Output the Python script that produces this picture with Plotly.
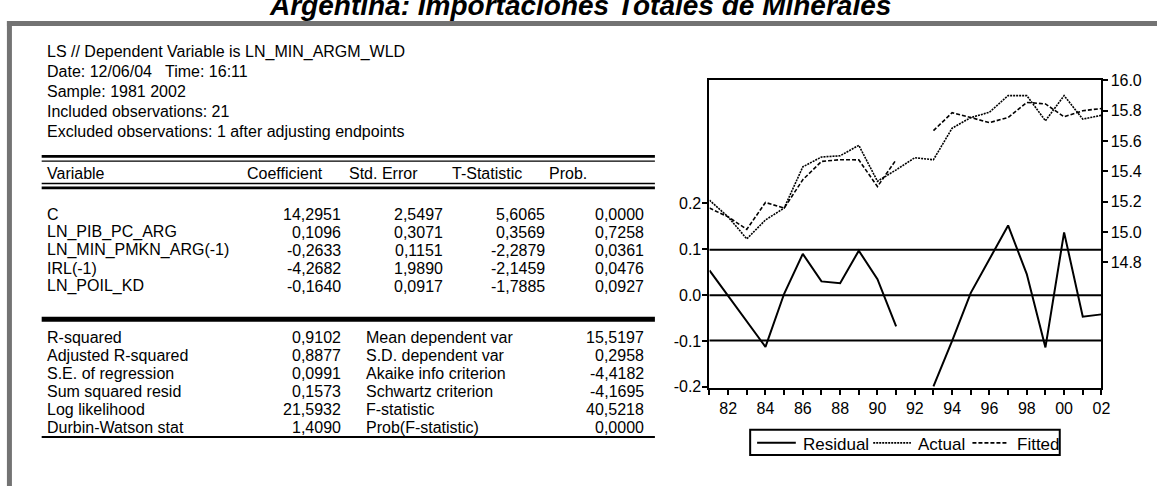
import plotly.graph_objects as go

W, H = 1166, 493
FONT = "Liberation Sans, Arial, Helvetica, sans-serif"

# ---------------- regression output (EViews style) ----------------
title_text = "Argentina: Importaciones Totales de Minerales"
header_lines = [
    "LS // Dependent Variable is LN_MIN_ARGM_WLD",
    "Date: 12/06/04\u00a0\u00a0 Time: 16:11",
    "Sample: 1981 2002",
    "Included observations: 21",
    "Excluded observations: 1 after adjusting endpoints",
]
col_headers = ["Variable", "Coefficient", "Std. Error", "T-Statistic", "Prob."]
variables = ["C", "LN_PIB_PC_ARG", "LN_MIN_PMKN_ARG(-1)", "IRL(-1)", "LN_POIL_KD"]
coefficients = ["14,2951", "0,1096", "-0,2633", "-4,2682", "-0,1640"]
std_errors = ["2,5497", "0,3071", "0,1151", "1,9890", "0,0917"]
t_stats = ["5,6065", "0,3569", "-2,2879", "-2,1459", "-1,7885"]
probs = ["0,0000", "0,7258", "0,0361", "0,0476", "0,0927"]
stat_names_left = ["R-squared", "Adjusted R-squared", "S.E. of regression",
                   "Sum squared resid", "Log likelihood", "Durbin-Watson stat"]
stat_values_left = ["0,9102", "0,8877", "0,0991", "0,1573", "21,5932", "1,4090"]
stat_names_right = ["Mean dependent var", "S.D. dependent var", "Akaike info criterion",
                    "Schwartz criterion", "F-statistic", "Prob(F-statistic)"]
stat_values_right = ["15,5197", "0,2958", "-4,4182", "-4,1695", "40,5218", "0,0000"]

# ---------------- residual / actual / fitted series ----------------
years = list(range(1981, 2003))
year_labels = ["", "82", "", "84", "", "86", "", "88", "", "90", "",
               "92", "", "94", "", "96", "", "98", "", "00", "", "02"]
residual = [0.054, -0.002, -0.058, -0.113, 0.003, 0.090, 0.030, 0.026, 0.097, 0.035, -0.068,
            None, -0.199, -0.100, 0.005, 0.078, 0.152, 0.046, -0.114, 0.137, -0.047, -0.042]
actual = [15.210, 15.100, 14.955, 15.080, 15.158, 15.430, 15.495, 15.503, 15.572, 15.335, 15.410,
          15.490, 15.477, 15.685, 15.755, 15.790, 15.900, 15.900, 15.734, 15.900, 15.745, 15.770]
fitted = [15.158, 15.100, 15.018, 15.195, 15.158, 15.345, 15.466, 15.477, 15.476, 15.300, 15.477,
          None, 15.669, 15.787, 15.755, 15.722, 15.755, 15.855, 15.845, 15.760, 15.800, 15.815]
resid_ticks = [-0.2, -0.1, 0.0, 0.1, 0.2]
resid_tick_labels = ["-0.2", "-0.1", "0.0", "0.1", "0.2"]
level_ticks = [14.8, 15.0, 15.2, 15.4, 15.6, 15.8, 16.0]
level_tick_labels = ["14.8", "15.0", "15.2", "15.4", "15.6", "15.8", "16.0"]

series_names = ["Residual", "Actual", "Fitted"]
series_widths = [2.0, 1.6, 1.6]
series_dash = ["solid", "2px,1px", "4px,2px"]

# standard error band drawn around the zero residual line
se_reg = float(stat_values_left[2].replace(",", "."))
resid_bands = [se_reg, 0.0, -se_reg]


def px(x):
    return x / W


def py(y):
    return 1 - y / H


annotations = []
shapes = []


def text(x, y, s, anchor="left", size=16):
    annotations.append(dict(
        x=px(x), y=py(y), xref="paper", yref="paper", text=s, showarrow=False,
        xanchor=anchor, yanchor="middle", borderpad=0,
        font=dict(family=FONT, size=size, color="black"),
    ))


def hline(x0, x1, y, width=1.5, color="black", dash="solid"):
    shapes.append(dict(type="line", xref="paper", yref="paper",
                       x0=px(x0), x1=px(x1), y0=py(y), y1=py(y),
                       line=dict(color=color, width=width, dash=dash)))


def vline(x, y0, y1, width=1.5, color="black"):
    shapes.append(dict(type="line", xref="paper", yref="paper",
                       x0=px(x), x1=px(x), y0=py(y0), y1=py(y1),
                       line=dict(color=color, width=width)))


# page frame
hline(7, W, 16, width=5, color="#737373")
vline(9.5, 13.5, H, width=5, color="#737373")

# title (partly above the page edge)
annotations.append(dict(
    x=px(585), y=py(-3), xref="paper", yref="paper", text="<b><i>" + title_text + "</i></b>",
    showarrow=False, xanchor="center", yanchor="middle", borderpad=0,
    font=dict(family=FONT, size=28, color="black"),
))

# header block
header_y = [45, 65.5, 86, 106.5, 127]
for s, y in zip(header_lines, header_y):
    text(46, y, s)

# coefficient table
TL, TR = 42, 660
hline(TL, TR, 153, width=2.6)
hline(TL, TR, 158, width=1.3)
hline(TL, TR, 181, width=1.3)
hline(TL, TR, 185.5, width=2.6)

header_x = [46, 248, 351, 455, 552]
for s, x in zip(col_headers, header_x):
    text(x, 171, s)

row_y = [212.6, 231.2, 249.8, 268.4, 287.0]
col_right = [345, 447, 550, 650]
for i, y in enumerate(row_y):
    text(46, y, variables[i])
    for col, x in zip([coefficients, std_errors, t_stats, probs], col_right):
        text(x, y, col[i], anchor="right")

hline(TL, TR, 321, width=5)

stat_y = [340.0, 358.6, 377.2, 395.8, 414.4, 433.0]
for i, y in enumerate(stat_y):
    text(46, y, stat_names_left[i])
    text(345, y, stat_values_left[i], anchor="right")
    text(368, y, stat_names_right[i])
    text(650, y, stat_values_right[i], anchor="right")

hline(TL, TR, 442.5, width=2)

# residual reference lines across the plot area
for b in resid_bands:
    shapes.append(dict(type="line", xref="x domain", yref="y", x0=0, x1=1, y0=b, y1=b,
                       line=dict(color="black", width=2), layer="below"))

# legend box below the chart
shapes.append(dict(type="rect", xref="paper", yref="paper",
                   x0=px(756), x1=px(1068), y0=py(461), y1=py(435),
                   line=dict(color="black", width=2), fillcolor="rgba(0,0,0,0)"))
legend_sample_x = [(763, 802), (880, 918), (980, 1016)]
legend_text_x = [808, 924, 1024]
for name, (sx0, sx1), tx, w, d in zip(series_names, legend_sample_x, legend_text_x,
                                      series_widths, series_dash):
    hline(sx0, sx1, 448.5, width=w, dash=d)
    text(tx, 450.5, name, size=17)

# ---------------- chart ----------------
fig = go.Figure()
fig.add_trace(go.Scatter(x=years, y=residual, name=series_names[0], mode="lines",
                         line=dict(color="black", width=series_widths[0], dash=series_dash[0]),
                         yaxis="y", connectgaps=False))
fig.add_trace(go.Scatter(x=years, y=actual, name=series_names[1], mode="lines",
                         line=dict(color="black", width=series_widths[1], dash=series_dash[1]),
                         yaxis="y2"))
fig.add_trace(go.Scatter(x=years, y=fitted, name=series_names[2], mode="lines",
                         line=dict(color="black", width=series_widths[2], dash=series_dash[2]),
                         yaxis="y2", connectgaps=False))

PX0, PX1, PY0, PY1 = 715, 1110, 74, 392
tickfont = dict(family=FONT, size=16, color="black")
axis_common = dict(showgrid=False, zeroline=False, showline=True, linecolor="black",
                   linewidth=2, ticks="outside", ticklen=5, tickwidth=1.5,
                   tickcolor="black", tickfont=tickfont)

fig.update_layout(
    width=W, height=H,
    margin=dict(l=0, r=0, t=0, b=0),
    paper_bgcolor="white", plot_bgcolor="white",
    font=dict(family=FONT, size=16, color="black"),
    xaxis=dict(domain=[px(PX0), px(PX1)], range=[1981, 2002], tickvals=years,
               ticktext=year_labels, mirror=True, anchor="y", **axis_common),
    yaxis=dict(domain=[py(PY1), py(PY0)], range=[-0.2028, 0.470], tickvals=resid_ticks,
               ticktext=resid_tick_labels, anchor="x", ticklabelstandoff=-2, **axis_common),
    yaxis2=dict(overlaying="y", side="right", anchor="x", range=[13.971, 16.0045],
                tickvals=level_ticks, ticktext=level_tick_labels, ticklabelstandoff=-1,
                **axis_common),
    showlegend=False,
    annotations=annotations,
    shapes=shapes,
)

fig.write_html("out.html")
